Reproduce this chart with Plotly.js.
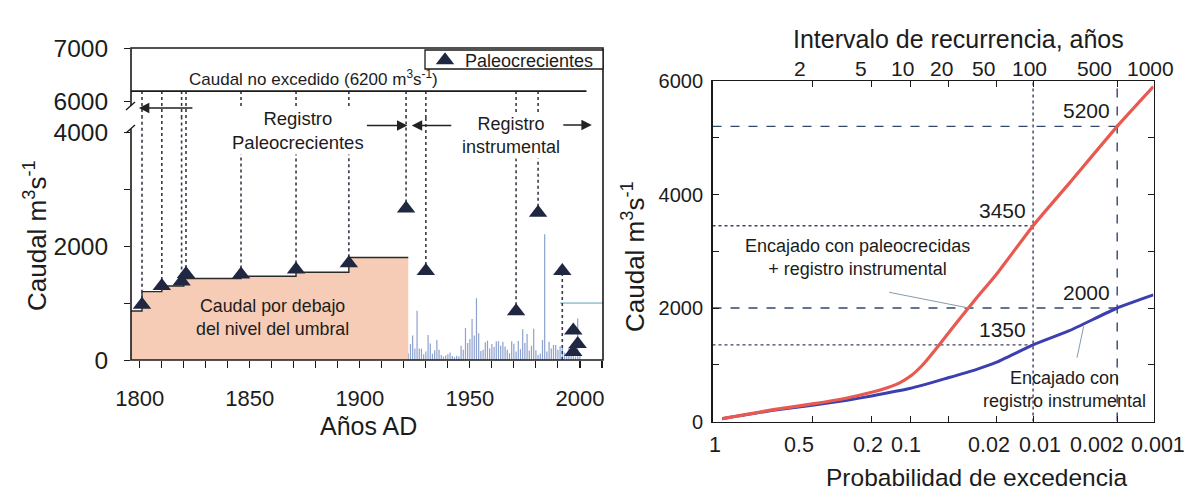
<!DOCTYPE html>
<html><head><meta charset="utf-8">
<script src="https://cdn.plot.ly/plotly-3.0.1.min.js"></script>
<style>html,body{margin:0;padding:0;background:#fff;}#chart{width:1186px;height:504px;}</style>
</head><body><div id="chart"></div>
<script>
// ================= LEFT PANEL DATA =================
const paleoYears = [1801, 1810, 1819, 1821, 1846, 1871, 1895, 1921, 1930, 1971, 1981, 1992, 1997, 1999, 1997];
const paleoQ     = [970, 1300, 1380, 1510, 1500, 1590, 1700, 2660, 1565, 855, 2585, 1565, 520, 280, 140];
const paleoLineToLimit = [1,1,1,1,1,1,1,1,1,1,1,0,0,0,0];
const paleoLineToZero  = [0,0,0,0,0,0,0,0,0,0,0,1,0,0,0];
const thresholdYears = [1796, 1801, 1810, 1820, 1846, 1871, 1895, 1922];
const thresholdQ     = [860, 1200, 1300, 1430, 1470, 1540, 1800, 1800];
const instrQ = [180,120,280,430,200,865,200,200,100,150, 440,290,110,170,350,180,90,60,80,100,
                130,70,50,75,60,250,180,560,300,370, 720,430,1085,470,160,180,310,340,200,280,
                230,330,330,250,320,235,180,120,330,285, 150,335,190,540,300,455,165,250,550,170,
                90,115,350,2210,150,320,200,265,265,180, 240,245,130,100,220,150,80,60,730,120];
const instrFirstYear = 1921;
const instrYears = instrQ.map((_, i) => instrFirstYear + i);
const recentThresholdYears = [1991, 2010.5];
const recentThresholdQ = [1000, 1000];
const noExceedQ = 6200;
const noExceedYears = [1796, 2003];
const yearTicks = [1800, 1850, 1900, 1950, 2000];

// ================= RIGHT PANEL DATA =================
const probPaleoFit = [0.98, 0.77, 0.5, 0.3, 0.2, 0.15, 0.12, 0.1, 0.08, 0.06, 0.045, 0.03, 0.02, 0.01, 0.005, 0.002, 0.001];
const qPaleoFit    = [50, 208, 310, 415, 515, 600, 690, 800, 1000, 1330, 1680, 2150, 2600, 3450, 4200, 5200, 5900];
const probInstrFit = [0.98, 0.77, 0.5, 0.3, 0.2, 0.1, 0.05, 0.03, 0.02, 0.01, 0.005, 0.002, 0.001];
const qInstrFit    = [50, 196, 285, 375, 450, 585, 770, 910, 1045, 1350, 1600, 2000, 2230];
const guideT      = [100, 500];
const guideQPaleo = [3450, 5200];
const guideQInstr = [1350, 2000];
const topTickT    = [2, 5, 10, 20, 50, 100, 500, 1000];
const bottomTickP    = [0.5, 0.2, 0.1, 0.05, 0.02, 0.01, 0.002, 0.001];
const bottomTickText = ['0.5', '0.2', '0.1', '', '0.02', '0.01', '0.002', '0.001'];
const leaderPaleo = {p: 0.034, q: 2000};
const leaderInstr = {p: 0.0038, q: 1680};

// ================= LAYOUT GEOMETRY (px) =================
const W = 1186, H = 504;
const L = {x0: 131, x1: 603, yTop: 48, yBreak: 118, yBot: 360};
const R = {x0: 712.5, x1: 1153.5, y0: 81, y1: 421.5};
const fx = x => x / W, fy = y => 1 - y / H;
const lowerMax = 4250, upperMin = 5700, upperMax = 7000;
const xLeftRange = [1796, 2010.5];
const gMin = -1.55, gMax = 6.91;
const gumbel = p => -Math.log(-Math.log(1 - p));
// hand-placed label nudges of the original figure (px)
const topLabelNudge    = [-12, -10, -8, -7, -13, -4, -23, -3];
const bottomLabelNudge = [-13, -3, -5, 0, -8, 7, -20, 5];

const FONT = 'Liberation Sans, Arial, sans-serif';
const TXT = '#1c1c1c';

// ---- dotted connector lines ----
const lowX = [], lowY = [], upX = [], upY = [];
paleoYears.forEach((yr, i) => {
  if (paleoLineToLimit[i]) {
    lowX.push(yr, yr, null); lowY.push(paleoQ[i], lowerMax, null);
    upX.push(yr, yr, null);  upY.push(upperMin, noExceedQ, null);
  }
  if (paleoLineToZero[i]) { lowX.push(yr, yr, null); lowY.push(0, paleoQ[i], null); }
});

const traces = [];
traces.push({type:'bar', x: instrYears, y: instrQ, width: 0.55, xaxis:'x', yaxis:'y',
  marker:{color:'#8ea2cf', line:{width:0}}, showlegend:false, hoverinfo:'skip'});
traces.push({type:'scatter', mode:'lines', x: thresholdYears, y: thresholdQ, xaxis:'x', yaxis:'y',
  line:{shape:'hv', color:'#2a2a2a', width:1.4}, fill:'tozeroy', fillcolor:'#f6ccb6',
  showlegend:false, hoverinfo:'skip'});
traces.push({type:'scatter', mode:'lines', x: recentThresholdYears, y: recentThresholdQ, xaxis:'x', yaxis:'y',
  line:{color:'#5aa7b5', width:1}, showlegend:false, hoverinfo:'skip'});
traces.push({type:'scatter', mode:'lines', x: lowX, y: lowY, xaxis:'x', yaxis:'y',
  line:{color:'#3a3a4a', width:1.6, dash:'dot'}, showlegend:false, hoverinfo:'skip', connectgaps:false});
traces.push({type:'scatter', mode:'lines', x: upX, y: upY, xaxis:'x', yaxis:'y2',
  line:{color:'#3a3a4a', width:1.6, dash:'dot'}, showlegend:false, hoverinfo:'skip', connectgaps:false});
traces.push({type:'scatter', mode:'lines', x: noExceedYears, y:[noExceedQ, noExceedQ], xaxis:'x', yaxis:'y2',
  line:{color:'#1a1a1a', width:1.6}, showlegend:false, hoverinfo:'skip'});
traces.push({type:'scatter', mode:'markers', x: paleoYears, y: paleoQ, xaxis:'x', yaxis:'y',
  name:'Paleocrecientes', cliponaxis:false,
  marker:{symbol:'triangle-up', size:16, color:'#1f2741'}, hoverinfo:'skip'});

// ---- right panel ----
const gT = guideT.map(T => gumbel(1 / T));
guideT.forEach((T, k) => {
  const dash = k === 0 ? 'dot' : 'dash';
  const col = k === 0 ? '#404060' : '#34456a';
  traces.push({type:'scatter', mode:'lines', x:[gT[k], gT[k]], y:[0, 6000], xaxis:'x2', yaxis:'y3',
    line:{color:col, width:1.4, dash:dash}, showlegend:false, hoverinfo:'skip'});
  traces.push({type:'scatter', mode:'lines', x:[gMin, gT[k]], y:[guideQPaleo[k], guideQPaleo[k]], xaxis:'x2', yaxis:'y3',
    line:{color:col, width:1.4, dash:dash}, showlegend:false, hoverinfo:'skip'});
  traces.push({type:'scatter', mode:'lines', x:[gMin, gT[k]], y:[guideQInstr[k], guideQInstr[k]], xaxis:'x2', yaxis:'y3',
    line:{color:col, width:1.4, dash:dash}, showlegend:false, hoverinfo:'skip'});
});
traces.push({type:'scatter', mode:'lines', x: probInstrFit.map(gumbel), y: qInstrFit, xaxis:'x2', yaxis:'y3',
  line:{color:'#3b3fb0', width:3, shape:'spline', smoothing:0.5}, showlegend:false, hoverinfo:'skip'});
traces.push({type:'scatter', mode:'lines', x: probPaleoFit.map(gumbel), y: qPaleoFit, xaxis:'x2', yaxis:'y3',
  line:{color:'#e85a50', width:3.2, shape:'spline', smoothing:0.5}, showlegend:false, hoverinfo:'skip'});
traces.push({type:'scatter', mode:'markers', x:[gMin], y:[0], xaxis:'x3', yaxis:'y3',
  marker:{opacity:0}, showlegend:false, hoverinfo:'skip'});

// ---- annotations ----
const ann = [];
function txt(text, x, y, size, extra) {
  ann.push(Object.assign({text, x: fx(x), y: fy(y), xref:'paper', yref:'paper', showarrow:false,
    xanchor:'center', yanchor:'middle', font:{family:FONT, size, color:TXT}}, extra || {}));
}
txt('Caudal no excedido (6200 m<sup>3</sup>s<sup>-1</sup>)', 313, 78, 17);
txt('Registro<br>Paleocrecientes', 298, 130, 18.5, {bgcolor:'#ffffff', borderpad:1});
txt('Registro<br>instrumental', 511, 136, 18, {bgcolor:'#ffffff', borderpad:1});
txt('Caudal por debajo<br>del nivel del umbral', 272, 317, 17.8);
txt('Caudal m<sup>3</sup>s<sup>-1</sup>', 35, 236, 26, {textangle:-90});
txt('Años AD', 368, 426, 25);
txt('Intervalo de recurrencia, años', 958, 39, 25);
txt('Probabilidad de excedencia', 976, 477, 24.5);
txt('Caudal m<sup>3</sup>s<sup>-1</sup>', 633, 257, 26, {textangle:-90});
txt('Encajado con paleocrecidas<br>+ registro instrumental', 857, 257, 18);
txt('Encajado con<br>registro instrumental', 1064, 389, 18);

// right panel tick labels (placed on the axis scale, with the original's nudges)
topTickT.forEach((T, i) => {
  ann.push({x: gumbel(1 / T), y: fy(69), xref:'x2', yref:'paper', text: String(T), showarrow:false,
    xanchor:'center', yanchor:'middle', xshift: topLabelNudge[i], font:{family:FONT, size:21, color:TXT}});
});
ann.push({x: gMin, y: fy(445), xref:'x2', yref:'paper', text:'1', showarrow:false, xanchor:'center',
  yanchor:'middle', xshift:2, font:{family:FONT, size:21.5, color:TXT}});
bottomTickP.forEach((p, i) => {
  if (!bottomTickText[i]) return;
  ann.push({x: gumbel(p), y: fy(445), xref:'x2', yref:'paper', text: bottomTickText[i], showarrow:false,
    xanchor:'center', yanchor:'middle', xshift: bottomLabelNudge[i], font:{family:FONT, size:21.5, color:TXT}});
});

// arrows (left panel)
function arrow(xData, yPx, axPx) {
  ann.push({x: xData, y: fy(yPx), xref:'x', yref:'paper', ax: axPx, ay: 0, axref:'pixel', ayref:'pixel',
    text:'', showarrow:true, arrowhead:2, arrowsize:1.3, arrowwidth:1.6, arrowcolor:'#222'});
}
arrow(1799.6, 108, 55);
arrow(1921.6, 125.5, -42);
arrow(1923.6, 125.5, 41);
arrow(2005.4, 125, -30);

// value labels on guides (right panel)
guideT.forEach((T, k) => {
  [guideQPaleo[k], guideQInstr[k]].forEach(q => {
    ann.push({x: gT[k], y: q, xref:'x2', yref:'y3', text: String(q), showarrow:false,
      xanchor:'right', yanchor:'bottom', xshift:-5, yshift:2, font:{family:FONT, size:21, color:TXT}});
  });
});
// leader lines
ann.push({x: gumbel(leaderPaleo.p), y: leaderPaleo.q, xref:'x2', yref:'y3', text:'', showarrow:true,
  arrowhead:0, arrowwidth:1, arrowcolor:'#8a9aa8', ax:-81, ay:-16, axref:'pixel', ayref:'pixel'});
ann.push({x: gumbel(leaderInstr.p), y: leaderInstr.q, xref:'x2', yref:'y3', text:'', showarrow:true,
  arrowhead:0, arrowwidth:1, arrowcolor:'#8a9aa8', ax:-7, ay:33, axref:'pixel', ayref:'pixel'});

// ---- shapes ----
const shapes = [
  {type:'rect', xref:'paper', yref:'paper', x0: fx(L.x0), x1: fx(L.x1), y0: fy(L.yBot), y1: fy(L.yTop),
   line:{color:'#1a1a1a', width:1.6}, layer:'above'},
  {type:'rect', xref:'paper', yref:'paper', x0: fx(425), x1: fx(L.x1), y0: fy(69), y1: fy(50),
   fillcolor:'#ffffff', line:{color:'#1a1a1a', width:1.3}, layer:'above'},
  {type:'rect', xref:'paper', yref:'paper', x0: fx(L.x0 - 3), x1: fx(L.x0 + 2.5), y0: fy(129), y1: fy(106),
   fillcolor:'#ffffff', line:{width:0}, layer:'above'},
  {type:'line', xref:'paper', yref:'paper', x0: fx(L.x0 - 5), y0: fy(110), x1: fx(L.x0 + 4), y1: fy(102),
   line:{color:'#1a1a1a', width:1.3}, layer:'above'},
  {type:'line', xref:'paper', yref:'paper', x0: fx(L.x0 - 5), y0: fy(133), x1: fx(L.x0 + 4), y1: fy(125),
   line:{color:'#1a1a1a', width:1.3}, layer:'above'}
];

const axBase = {showgrid:false, zeroline:false, color:TXT, tickcolor:'#1a1a1a', linecolor:'#1a1a1a'};
const layout = {
  width: W, height: H, margin:{l:0, r:0, t:0, b:0}, paper_bgcolor:'#fff', plot_bgcolor:'rgba(0,0,0,0)',
  font:{family:FONT, color:TXT},
  showlegend:true,
  legend:{x: fx(425), y: fy(42), xanchor:'left', yanchor:'top', bgcolor:'rgba(0,0,0,0)', borderwidth:0,
    font:{family:FONT, size:18, color:TXT}, itemwidth:30},
  xaxis: Object.assign({}, axBase, {domain:[fx(L.x0), fx(L.x1)], anchor:'y', range: xLeftRange,
    tickvals: yearTicks, ticks:'outside', ticklen:7, tickwidth:1.2, showline:false, tickangle:0,
    minor:{dtick:10, tick0:1800, ticks:'outside', ticklen:7, tickcolor:'#1a1a1a'},
    tickfont:{family:FONT, size:22, color:TXT}, ticklabelstandoff:12}),
  yaxis: Object.assign({}, axBase, {domain:[fy(L.yBot), fy(L.yBreak)], anchor:'x', range:[0, lowerMax],
    tickvals:[0,1000,2000,3000,4000], ticktext:['0','','2000','','4000'], ticks:'outside', ticklen:6,
    showline:false, tickfont:{family:FONT, size:24.5, color:TXT}, ticklabelstandoff:11}),
  yaxis2: Object.assign({}, axBase, {domain:[fy(L.yBreak), fy(L.yTop)], anchor:'x', range:[upperMin, upperMax],
    tickvals:[6000,7000], ticks:'outside', ticklen:6, showline:false,
    tickfont:{family:FONT, size:24.5, color:TXT}, ticklabelstandoff:11}),
  xaxis2: Object.assign({}, axBase, {domain:[fx(R.x0), fx(R.x1)], anchor:'y3', range:[gMin, gMax],
    tickvals: bottomTickP.map(gumbel), showticklabels:false,
    ticks:'inside', ticklen:6, showline:true, linewidth:1.4, mirror:true}),
  xaxis3: Object.assign({}, axBase, {overlaying:'x2', side:'top', anchor:'y3', range:[gMin, gMax],
    tickvals: topTickT.map(T => gumbel(1 / T)), showticklabels:false,
    ticks:'inside', ticklen:6, showline:false}),
  yaxis3: Object.assign({}, axBase, {domain:[fy(R.y1), fy(R.y0)], anchor:'x2', range:[0, 6000],
    tickvals:[0,1000,2000,3000,4000,5000,6000], ticktext:['0','','2000','','4000','','6000'],
    ticks:'inside', ticklen:6, showline:true, linewidth:1.4, mirror:'ticks',
    tickfont:{family:FONT, size:20, color:TXT}, ticklabelstandoff:4}),
  annotations: ann,
  shapes: shapes
};
Plotly.newPlot('chart', traces, layout, {staticPlot:true, displayModeBar:false});
</script></body></html>
